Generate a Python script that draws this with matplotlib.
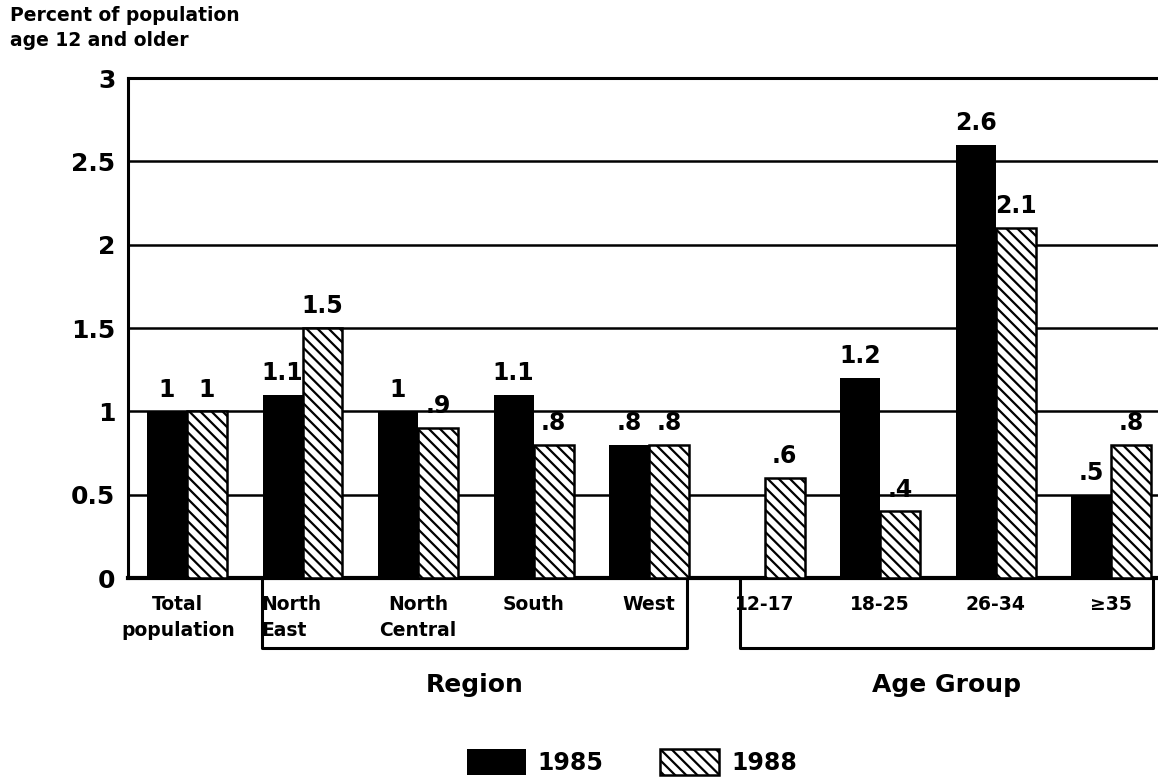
import numpy as np
import matplotlib
matplotlib.use("Agg")
import matplotlib.pyplot as plt
import matplotlib.transforms as mtransforms

# data
categories = ["Total\npopulation", "North\nEast", "North\nCentral", "South", "West",
              "12-17", "18-25", "26-34", "≥35"]
use_1985 = [1.0, 1.1, 1.0, 1.1, 0.8, 0.0, 1.2, 2.6, 0.5]
use_1988 = [1.0, 1.5, 0.9, 0.8, 0.8, 0.6, 0.4, 2.1, 0.8]
yticks = [0, 0.5, 1, 1.5, 2, 2.5, 3]
ytick_labels = ["0", "0.5", "1", "1.5", "2", "2.5", "3"]
group_names = ["Region", "Age Group"]

plt.rcParams["font.family"] = ["DejaVu Sans"]
plt.rcParams["font.weight"] = "bold"
plt.rcParams["hatch.linewidth"] = 1.6

fig = plt.figure(figsize=(11.58, 7.78), dpi=100)
W, H = 1158, 778
ax = fig.add_axes([128 / W, (H - 578) / H, 1042 / W, 500 / H])

x = np.arange(len(categories))
w = 0.346
b85 = ax.bar(x - w / 2, use_1985, w, color="black", zorder=3, label="1985")
b88 = ax.bar(x + w / 2, use_1988, w, facecolor="white", edgecolor="black",
             linewidth=1.8, hatch="\\\\\\", zorder=3, label="1988")

def fmt(v):
    s = f"{v:g}"
    return s[1:] if s.startswith("0.") else s

for bars, vals in ((b85, use_1985), (b88, use_1988)):
    for r, v in zip(bars, vals):
        if v <= 0:
            continue
        ax.annotate(fmt(v), (r.get_x() + r.get_width() / 2, v),
                    xytext=(0, 7), textcoords="offset points",
                    ha="center", va="bottom", fontsize=17, fontweight="bold")

ax.set_xlim(-0.511, 8.51)
ax.set_ylim(0, 3)
ax.set_yticks(yticks)
ax.set_yticklabels(ytick_labels, fontsize=18, fontweight="bold")
ax.tick_params(axis="y", length=0, pad=9)
ax.set_xticks([])
for y in yticks[1:-1]:
    ax.axhline(y, color="black", lw=1.8, zorder=1)
for side in ("left", "top"):
    ax.spines[side].set_linewidth(2.2)
ax.spines["bottom"].set_linewidth(3)
ax.spines["right"].set_visible(False)

# category labels under the axis
trans = mtransforms.blended_transform_factory(ax.transData, ax.transAxes)
for i, lab in enumerate(categories):
    if lab == "North\nEast":
        ax.text(i - w - 0.01, -0.035, lab, transform=trans, ha="left", va="top",
                fontsize=13.5, fontweight="bold", linespacing=1.45)
    else:
        ax.text(i - (0.08 if i == 0 else 0), -0.035, lab, transform=trans,
                ha="center", va="top", fontsize=13.5, fontweight="bold",
                linespacing=1.45, multialignment="center")

# boxes around the region and age groups
ybot = -0.14
boxes = [(1 - 0.35, 4 + 0.33), (5 - 0.21, 8 + 0.36)]
for (x0, x1), name in zip(boxes, group_names):
    ax.plot([x0, x0, x1, x1], [0, ybot, ybot, 0], color="black", lw=2.2,
            transform=trans, clip_on=False)
    ax.text((x0 + x1) / 2, -0.19, name, transform=trans, ha="center", va="top",
            fontsize=18, fontweight="bold")

fig.text(10 / W, 1 - 6 / H, "Percent of population\nage 12 and older", ha="left", va="top",
         fontsize=13.5, fontweight="bold", linespacing=1.4)

fig.legend(handles=[b85, b88], labels=["1985", "1988"], loc="center",
           bbox_to_anchor=(632 / W, 1 - 762 / H), ncol=2, frameon=False,
           handlelength=2.5, handleheight=1.3, handletextpad=0.5,
           columnspacing=2.4, prop={"weight": "bold", "size": 17})

fig.savefig("out.png", dpi=100)
